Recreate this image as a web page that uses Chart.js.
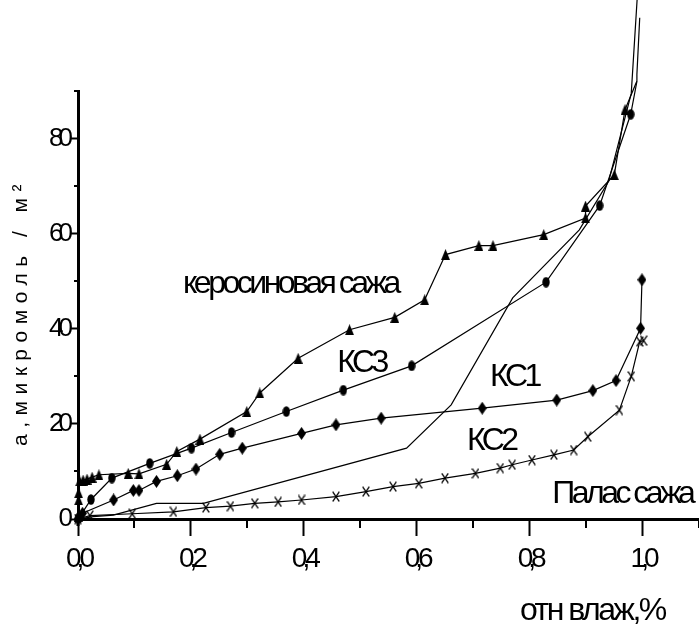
<!DOCTYPE html>
<html>
<head>
<meta charset="utf-8">
<script src="https://cdn.jsdelivr.net/npm/chart.js@4.4.1/dist/chart.umd.min.js"></script>
<style>
  html, body { margin: 0; padding: 0; background: #fff; }
  canvas { display: block; }
</style>
</head>
<body>
<canvas id="chart" width="699" height="630"></canvas>
<script>
// ---- data: adsorption isotherms, a (µmol/m²) vs relative humidity ----
const kerosX = [0, 0.001, 0.001, 0.003, 0.009, 0.016, 0.025, 0.037, 0.089, 0.108, 0.157, 0.175, 0.216, 0.299, 0.322, 0.390, 0.481, 0.561, 0.614, 0.651, 0.710, 0.735, 0.825, 0.899, 0.899, 0.950, 0.969, 0.990, 0.990, 0.995];
const kerosY = [0.5, 4.0, 5.5, 8.0, 8.2, 8.4, 8.8, 9.3, 9.6, 9.5, 11.5, 14.2, 16.8, 22.6, 26.5, 33.8, 39.8, 42.4, 46.1, 55.6, 57.5, 57.5, 59.8, 63.3, 65.8, 72.4, 86.1, 92.1, 93.5, 105.4];

const ks3X = [0.002, 0.023, 0.060, 0.127, 0.201, 0.272, 0.369, 0.470, 0.591, 0.829, 0.924, 0.979, 0.990];
const ks3Y = [0.3, 4.1, 8.6, 11.7, 14.9, 18.2, 22.6, 27.1, 32.2, 49.8, 65.9, 85.1, 92.0];

const ks2X = [0, 0.008, 0.063, 0.098, 0.108, 0.139, 0.176, 0.209, 0.251, 0.291, 0.396, 0.457, 0.537, 0.716, 0.848, 0.912, 0.953, 0.9965, 0.999];
const ks2Y = [0, 1.2, 4.0, 6.0, 6.0, 7.9, 9.1, 10.5, 13.6, 14.9, 18.0, 19.8, 21.2, 23.3, 25.0, 27.0, 29.1, 40.1, 50.3];

const ks1X = [0, 0.027, 0.0625, 0.139, 0.222, 0.582, 0.661, 0.770, 0.888, 0.940, 0.980, 0.995];
const ks1Y = [0, 0.5, 0.8, 3.3, 3.3, 14.9, 24.0, 46.5, 60.8, 71.0, 89.5, 118.0];

const palasX = [0, 0.021, 0.096, 0.169, 0.2265, 0.270, 0.313, 0.3545, 0.396, 0.457, 0.510, 0.558, 0.6035, 0.650, 0.704, 0.748, 0.769, 0.804, 0.843, 0.878, 0.903, 0.959, 0.980, 0.995, 1.002];
const palasY = [0, 0.7, 1.1, 1.5, 2.4, 2.7, 3.3, 3.6, 4.0, 4.7, 5.75, 6.8, 7.5, 8.6, 9.6, 10.7, 11.4, 12.4, 13.5, 14.5, 17.3, 22.9, 30.0, 37.3, 37.5];

// tick labels (keyed by tenths on x, by value on y)
const xTickLabels = { 0: '0,0', 2: '0,2', 4: '0,4', 6: '0,6', 8: '0,8', 10: '1,0' };
const yTickLabels = { 0: '0', 20: '20', 40: '40', 60: '60', 80: '80' };

// curve names, placed in data coordinates
const curveNames = ['керосиновая сажа', 'КС3', 'КС1', 'КС2', 'Палас сажа'];
const nameX = [0.186, 0.459, 0.730, 0.689, 0.840];
const nameY = [47.5, 30.9, 28.0, 14.5, 3.4];

const xTitle = 'отн влаж,%';
const yTitle = 'а,микромоль / м²';

// ---- helpers ----
const FONT = "'Liberation Sans', Arial, sans-serif";
const pts = (xs, ys) => xs.map((x, i) => ({ x: x, y: ys[i] }));

function markerCanvas(w, h, draw) {
  const c = document.createElement('canvas');
  c.width = w; c.height = h;
  const g = c.getContext('2d');
  g.fillStyle = '#000'; g.strokeStyle = '#000';
  draw(g, w, h);
  return c;
}
const triMarker = markerCanvas(9, 11, (g, w, h) => {
  g.beginPath(); g.moveTo(w / 2, 0); g.lineTo(w, h); g.lineTo(0, h); g.closePath(); g.fill();
});
const dotMarker = markerCanvas(8, 11, (g, w, h) => {
  g.beginPath(); g.ellipse(w / 2, h / 2, w / 2 - 0.3, h / 2 - 0.3, 0, 0, Math.PI * 2); g.fill();
});
const diamondMarker = markerCanvas(9, 13, (g, w, h) => {
  g.beginPath(); g.moveTo(w / 2, 0); g.lineTo(w, h / 2); g.lineTo(w / 2, h); g.lineTo(0, h / 2); g.closePath(); g.fill();
});
const crossMarker = markerCanvas(8, 11, (g, w, h) => {
  g.lineWidth = 1.3;
  g.beginPath(); g.moveTo(0.7, 0.7); g.lineTo(w - 0.7, h - 0.7);
  g.moveTo(w - 0.7, 0.7); g.lineTo(0.7, h - 0.7); g.stroke();
});

function series(label, data, marker) {
  return {
    label: label,
    data: data,
    showLine: true,
    borderColor: '#000',
    backgroundColor: '#000',
    borderWidth: 1.2,
    pointStyle: marker || 'circle',
    pointRadius: marker ? 5 : 0,
    clip: false,
    tension: 0
  };
}

const isMajorX = v => { const k = Math.round(v * 10); return k % 2 === 0 && k <= 10; };
const isMajorY = v => Math.round(v) % 20 === 0;

// minor ticks, axis overhang, curve names and axis titles
const decorations = {
  id: 'decorations',
  beforeDraw(chart) {
    const ctx = chart.ctx;
    ctx.save();
    ctx.fillStyle = '#fff';
    ctx.fillRect(0, 0, chart.width, chart.height);
    ctx.restore();
    // tight digit spacing for tick labels
    ctx.letterSpacing = '-5px';
  },
  afterDraw(chart) {
    const ctx = chart.ctx;
    ctx.letterSpacing = '0px';
    const xs = chart.scales.x, ys = chart.scales.y;
    const area = chart.chartArea;
    ctx.save();
    ctx.strokeStyle = '#000';
    ctx.lineWidth = 2;
    ctx.beginPath();
    xs.ticks.forEach(t => {
      if (!isMajorX(t.value)) {
        const px = Math.round(xs.getPixelForValue(t.value));
        ctx.moveTo(px, area.bottom); ctx.lineTo(px, area.bottom + 9);
      }
    });
    ys.ticks.forEach(t => {
      if (!isMajorY(t.value)) {
        const py = Math.round(ys.getPixelForValue(t.value));
        ctx.moveTo(area.left - 4, py); ctx.lineTo(area.left, py);
      }
    });
    ctx.stroke();
    // y axis runs a little past the x axis
    ctx.lineWidth = 3;
    ctx.beginPath();
    ctx.moveTo(area.left, area.bottom); ctx.lineTo(area.left, area.bottom + 7);
    ctx.stroke();

    ctx.fillStyle = '#000';
    ctx.textBaseline = 'alphabetic';
    ctx.textAlign = 'left';
    ctx.font = '32px ' + FONT;
    ctx.letterSpacing = '-3.5px';
    curveNames.forEach((name, i) => {
      ctx.fillText(name, xs.getPixelForValue(nameX[i]), ys.getPixelForValue(nameY[i]));
    });

    ctx.font = '32px ' + FONT;
    ctx.letterSpacing = '-2.5px';
    ctx.fillText(xTitle, 520, 620);

    ctx.translate(27, 315);
    ctx.rotate(-Math.PI / 2);
    ctx.textAlign = 'center';
    ctx.font = '21px ' + FONT;
    ctx.letterSpacing = '6.5px';
    ctx.fillText(yTitle, 3, 0);
    ctx.restore();
    ctx.letterSpacing = '0px';
  }
};

new Chart(document.getElementById('chart'), {
  type: 'scatter',
  data: {
    datasets: [
      series('керосиновая сажа', pts(kerosX, kerosY), triMarker),
      series('КС3', pts(ks3X, ks3Y), dotMarker),
      series('КС2', pts(ks2X, ks2Y), diamondMarker),
      series('КС1', pts(ks1X, ks1Y), null),
      series('Палас сажа', pts(palasX, palasY), crossMarker)
    ]
  },
  options: {
    responsive: false,
    devicePixelRatio: 1,
    animation: false,
    events: [],
    layout: { autoPadding: false, padding: { top: 91, right: 0, bottom: 0, left: 0 } },
    plugins: { legend: { display: false }, tooltip: { enabled: false }, title: { display: false } },
    scales: {
      x: {
        type: 'linear',
        min: 0, max: 1.1,
        afterFit(s) { s.height = 111; s.paddingLeft = 0; s.paddingRight = 0; },
        border: { display: true, color: '#000', width: 3 },
        grid: {
          drawOnChartArea: false, drawTicks: true, tickLength: 17, tickWidth: 2,
          tickColor: c => (c.tick && isMajorX(c.tick.value)) ? '#000' : 'rgba(0,0,0,0)'
        },
        ticks: {
          stepSize: 0.1, autoSkip: false, maxRotation: 0, padding: 6,
          color: '#000', font: { family: FONT, size: 28 },
          callback: v => xTickLabels[Math.round(v * 10)] || ''
        }
      },
      y: {
        type: 'linear',
        min: 0, max: 90,
        afterFit(s) { s.width = 78; s.paddingTop = 0; s.paddingBottom = 0; },
        border: { display: true, color: '#000', width: 3 },
        grid: {
          drawOnChartArea: false, drawTicks: true, tickLength: 7, tickWidth: 2,
          tickColor: c => (c.tick && isMajorY(c.tick.value)) ? '#000' : 'rgba(0,0,0,0)'
        },
        ticks: {
          stepSize: 10, autoSkip: false, padding: 3,
          color: '#000', font: { family: FONT, size: 26 },
          callback: v => yTickLabels[Math.round(v)] || ''
        }
      }
    }
  },
  plugins: [decorations]
});
</script>
</body>
</html>
